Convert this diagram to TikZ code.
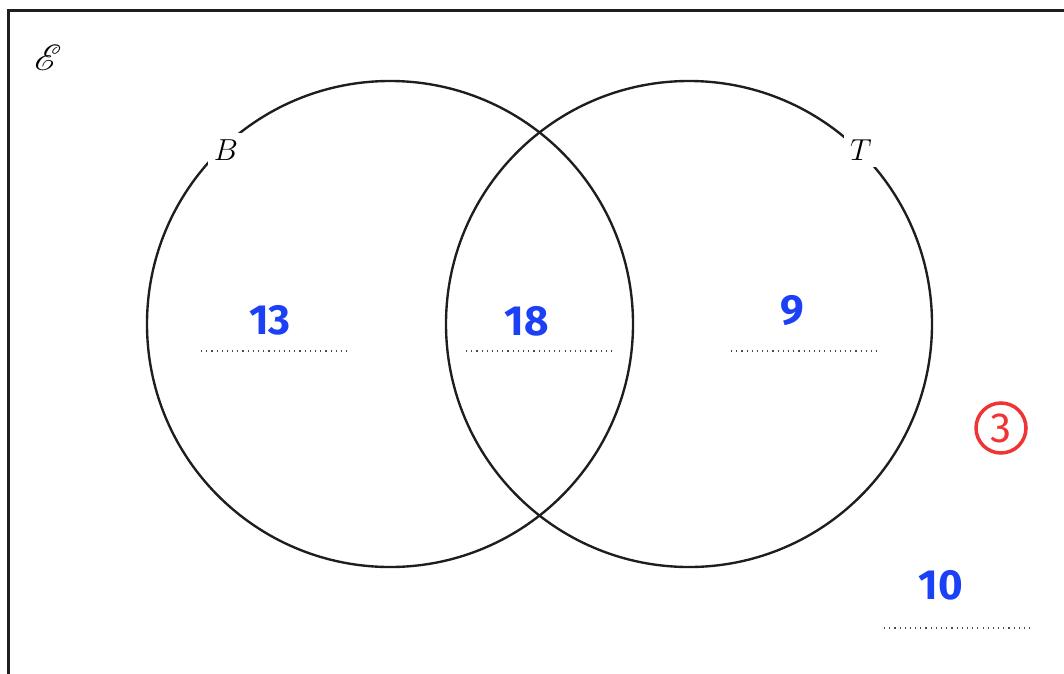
\documentclass[tikz,border=0pt]{standalone}
\usepackage{fontspec}
\usepackage{amsmath,amssymb}
\usepackage{mathrsfs}
\usepackage{xcolor}
\newfontfamily\handfont{Fira Sans}
\definecolor{InkBlue}{RGB}{28,64,245}
\definecolor{InkRed}{RGB}{238,52,52}
\definecolor{LineGray}{RGB}{30,30,30}

\begin{document}
\begin{tikzpicture}[
  x=0.02cm, y=-0.02cm,
  setline/.style={draw=LineGray, line width=1.35pt},
  setlab/.style={fill=white, inner sep=3.5pt, font=\fontsize{17}{20}\selectfont},
  answer/.style={text=InkBlue, font=\handfont\bfseries\fontsize{24}{26}\selectfont},
  dots/.style={draw=LineGray!80, line width=0.65pt, dash pattern=on 0.65pt off 2.3pt},
  mark3/.style={circle, draw=InkRed, line width=2pt, text=InkRed,
    minimum size=1.0cm, inner sep=0pt, font=\handfont\fontsize{24}{26}\selectfont}
]
\useasboundingbox (0,0) rectangle (1064,673);
\clip (0,0) rectangle (1064,673);

% universal set
\draw[setline, line width=1.5pt] (8.5,680) -- (8.5,10.5) -- (1070,10.5);
\node (univ) at (48,58) {\fontsize{20}{22}\selectfont$\mathscr{E}$};

% the two sets
\coordinate (cB) at (390,324);
\coordinate (cT) at (689,324);
\draw[setline] (cB) circle[radius=243];
\draw[setline] (cT) circle[radius=243];
\node[setlab] (labB) at (226,150) {$B$};
\node[setlab] (labT) at (861,150) {$T$};

% answer lines
\foreach \x/\name in {275/onlyB, 540/both, 805/onlyT}{
  \coordinate (\name) at (\x,351);
  \draw[dots] ([xshift=-1.48cm]\name) -- ([xshift=1.48cm]\name);
}
\coordinate (outside) at (958,628);
\draw[dots] ([xshift=-1.48cm]outside) -- ([xshift=1.48cm]outside);

% handwritten values
\node[answer] (vB) at (270,320) {13};
\node[answer] (vBT) at (527,321) {18};
\node[answer] (vT) at (792,311) {9};
\node[answer] (vOut) at (941,585) {10};
\node[mark3] (mark) at (1001,428) {3};
\end{tikzpicture}
\end{document}
